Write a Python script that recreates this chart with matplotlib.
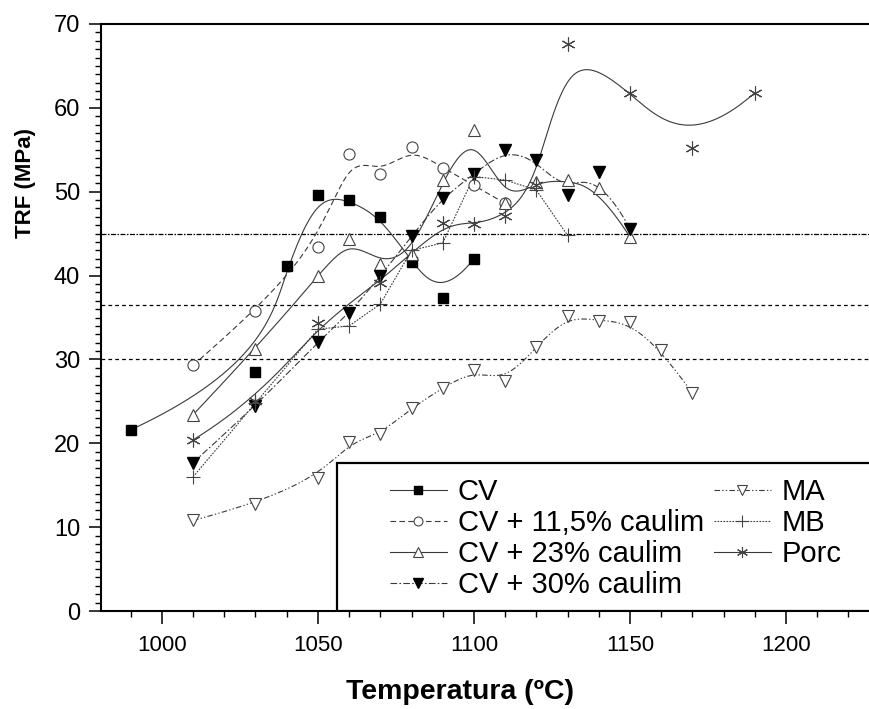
import matplotlib
matplotlib.use('Agg')
import matplotlib.pyplot as plt
from matplotlib.patches import Rectangle
from matplotlib.ticker import MultipleLocator
import numpy as np

plt.rcParams['font.family'] = ['Liberation Sans', 'DejaVu Sans']

# data (temperature in C, TRF in MPa)
temp_cv = [990, 1030, 1040, 1050, 1060, 1070, 1080, 1090, 1100]
trf_cv = [21.6, 28.5, 41.2, 49.6, 49.0, 47.0, 41.6, 37.3, 42.0]

temp_c115 = [1010, 1030, 1050, 1060, 1070, 1080, 1090, 1100, 1110]
trf_c115 = [29.3, 35.8, 43.4, 54.5, 52.1, 55.3, 52.8, 50.8, 48.6]

temp_c23 = [1010, 1030, 1050, 1060, 1070, 1080, 1090, 1100, 1110, 1120, 1130, 1140, 1150]
trf_c23 = [23.4, 31.3, 39.9, 44.4, 41.4, 42.6, 51.4, 57.4, 48.7, 51.2, 51.4, 50.4, 44.6]

temp_c30 = [1010, 1030, 1050, 1060, 1070, 1080, 1090, 1100, 1110, 1120, 1130, 1140, 1150]
trf_c30 = [17.7, 24.4, 32.1, 35.5, 39.9, 44.7, 49.3, 52.1, 55.0, 53.8, 49.6, 52.4, 45.6]

temp_ma = [1010, 1030, 1050, 1060, 1070, 1080, 1090, 1100, 1110, 1120, 1130, 1140, 1150, 1160, 1170]
trf_ma = [10.8, 12.8, 15.9, 20.1, 21.1, 24.2, 26.6, 28.7, 27.4, 31.5, 35.2, 34.6, 34.5, 31.1, 26.0]

temp_mb = [1010, 1030, 1050, 1060, 1070, 1080, 1090, 1100, 1110, 1120, 1130]
trf_mb = [16.0, 24.8, 33.6, 34.0, 36.6, 43.0, 43.9, 51.8, 51.4, 50.2, 44.8]

temp_porc = [1010, 1030, 1050, 1070, 1090, 1100, 1110, 1120, 1130, 1150, 1170, 1190]
trf_porc = [20.4, 25.0, 34.3, 39.1, 46.3, 46.1, 47.1, 50.8, 67.6, 61.8, 55.2, 61.8]

ref_levels = [45.0, 36.5, 30.0]


def bspline(xs, ys, k=3, num=400):
    # clamped cubic B-spline with the points as control points (Origin style)
    P = np.column_stack([xs, ys]).astype(float)
    n = len(P)
    knots = np.concatenate([np.zeros(k + 1), np.arange(1, n - k), np.full(k + 1, n - k)])
    u = np.linspace(0, n - k - 1e-9, num)
    N = np.zeros((num, len(knots) - 1))
    for i in range(len(knots) - 1):
        N[:, i] = (knots[i] <= u) & (u < knots[i + 1])
    for d in range(1, k + 1):
        Nn = np.zeros((num, len(knots) - 1 - d))
        for i in range(len(knots) - 1 - d):
            a = knots[i + d] - knots[i]
            b = knots[i + d + 1] - knots[i + 1]
            term = np.zeros(num)
            if a > 0:
                term += (u - knots[i]) / a * N[:, i]
            if b > 0:
                term += (knots[i + d + 1] - u) / b * N[:, i + 1]
            Nn[:, i] = term
        N = Nn
    out = np.vstack([N @ P, P[-1]])
    return out[:, 0], out[:, 1]


fig = plt.figure(figsize=(8.69, 7.09), dpi=100)
ax = fig.add_axes([101/869, 1 - 611/709, 1 - 101/869, (611 - 24)/709])

lc = '#3a3a3a'
ec = '#444444'
series = [
    (temp_cv, trf_cv, 'CV', '-', dict(marker='s', ms=7, mfc='black', mec='black'), True),
    (temp_c115, trf_c115, 'CV + 11,5% caulim', (0, (5, 3)), dict(marker='o', ms=8, mfc='white', mec=ec, mew=0.8), True),
    (temp_c23, trf_c23, 'CV + 23% caulim', '-', dict(marker='^', ms=8.5, mfc='white', mec=ec, mew=0.8), True),
    (temp_c30, trf_c30, 'CV + 30% caulim', (0, (6, 2, 1.5, 2)), dict(marker='v', ms=8.5, mfc='black', mec='black'), True),
    (temp_ma, trf_ma, 'MA', (0, (5, 2, 1.2, 2, 1.2, 2)), dict(marker='v', ms=8.5, mfc='white', mec=ec, mew=0.8), True),
    (temp_mb, trf_mb, 'MB', (0, (1.5, 1.2)), dict(marker='+', ms=10, mec=ec, mew=0.8), False),
    (temp_porc, trf_porc, 'Porc', '-', dict(marker=(6, 2, 0), ms=10, mec=ec, mew=0.8), True),
]

handles = []
for xs, ys, label, ls, mk, smooth in series:
    if smooth:
        cx, cy = bspline(xs, ys)
    else:
        cx, cy = xs, ys
    ax.plot(cx, cy, color=lc, lw=0.8, ls=ls, zorder=2)
    ax.plot(xs, ys, ls='none', zorder=3, **mk)
    h, = ax.plot([], [], color=lc, lw=0.8, ls=ls, **mk)
    handles.append(h)

ref_styles = [(0, (4, 1.2, 1.2, 1.2)), (0, (3, 2.5)), (0, (3, 2.5))]
for lvl, st in zip(ref_levels, ref_styles):
    ax.axhline(lvl, color='black', lw=0.9, ls=st, zorder=1)

# legend box
box = Rectangle((0.307, 0.0), 0.72, 0.252, transform=ax.transAxes,
                facecolor='white', edgecolor='black', lw=1.6, zorder=5)
ax.add_patch(box)
leg = ax.legend(handles=handles, labels=[s[2] for s in series], ncol=2,
                loc='upper left', bbox_to_anchor=(0.376, 0.226), frameon=False,
                fontsize=21, handlelength=1.95, handletextpad=0.38,
                columnspacing=0.34, labelspacing=0.1, borderpad=0,
                borderaxespad=0, markerscale=0.8)
leg.set_zorder(6)

ax.set_xlim(980.5, 1226.6)
ax.set_ylim(0, 70)
ax.xaxis.set_major_locator(MultipleLocator(50))
ax.xaxis.set_minor_locator(MultipleLocator(10))
ax.yaxis.set_major_locator(MultipleLocator(10))
ax.yaxis.set_minor_locator(MultipleLocator(1))
ax.tick_params(which='major', direction='out', length=9, width=1.1, labelsize=17, pad=6)
ax.tick_params(which='minor', direction='out', length=4.5, width=1.0)
ax.tick_params(axis='x', which='major', labelsize=16, pad=8)
ax.spines['right'].set_visible(False)
for s in ['left', 'top', 'bottom']:
    ax.spines[s].set_linewidth(1.5)

ax.set_xlabel('Temperatura (ºC)', fontsize=20.5, fontweight='bold', va='center')
ax.xaxis.set_label_coords((460 - 101)/768, (611 - 692)/587)
ax.set_ylabel('TRF (MPa)', fontsize=16, fontweight='bold', va='center')
ax.yaxis.set_label_coords((25 - 101)/768, (611 - 183)/587)

fig.savefig('out.png', dpi=100)
